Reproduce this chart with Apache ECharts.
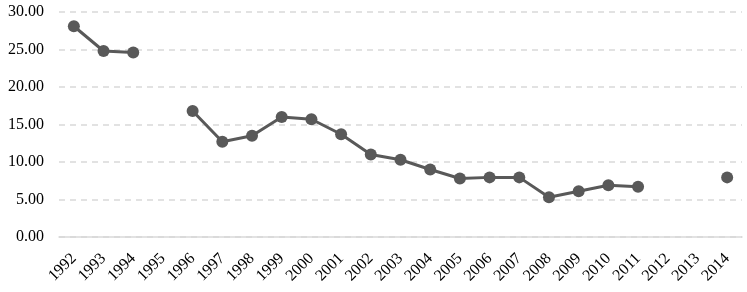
<!DOCTYPE html>
<html><head><meta charset="utf-8">
<script src="https://cdn.jsdelivr.net/npm/echarts@6/dist/echarts.min.js"></script>
<style>html,body{margin:0;padding:0;background:#fff}#c{width:747px;height:292px}</style>
</head><body><div id="c"></div>
<script>
const years = ['1992','1993','1994','1995','1996','1997','1998','1999','2000','2001','2002','2003','2004','2005','2006','2007','2008','2009','2010','2011','2012','2013','2014'];
const values = [28.1,24.8,24.6,null,16.8,12.7,13.5,16.0,15.7,13.7,11.0,10.3,9.0,7.8,7.95,7.95,5.3,6.1,6.9,6.7,null,null,7.95];
const yTicks = {min:0,max:30,interval:5};
const chart = echarts.init(document.getElementById('c'));
chart.setOption({
  animation:false,
  grid:{left:59,right:5,top:12,bottom:55,containLabel:false},
  xAxis:{type:'category',data:years,boundaryGap:true,
    axisLine:{lineStyle:{color:'#d9d9d9',width:1.5}},axisTick:{show:false},
    axisLabel:{rotate:45,margin:19,interval:0,color:'#000',fontFamily:'Liberation Serif',fontSize:16}},
  yAxis:{type:'value',min:yTicks.min,max:yTicks.max,interval:yTicks.interval,
    axisLine:{show:false},axisTick:{show:false},
    splitLine:{lineStyle:{type:[6,5],color:'#d9d9d9',width:1.5}},
    axisLabel:{margin:15,color:'#000',fontFamily:'Liberation Serif',fontSize:16,formatter:v=>v.toFixed(2)}},
  series:[{type:'line',data:values,connectNulls:false,symbol:'circle',symbolSize:12,
    lineStyle:{color:'#595959',width:3},itemStyle:{color:'#595959'}}]
});
</script></body></html>
